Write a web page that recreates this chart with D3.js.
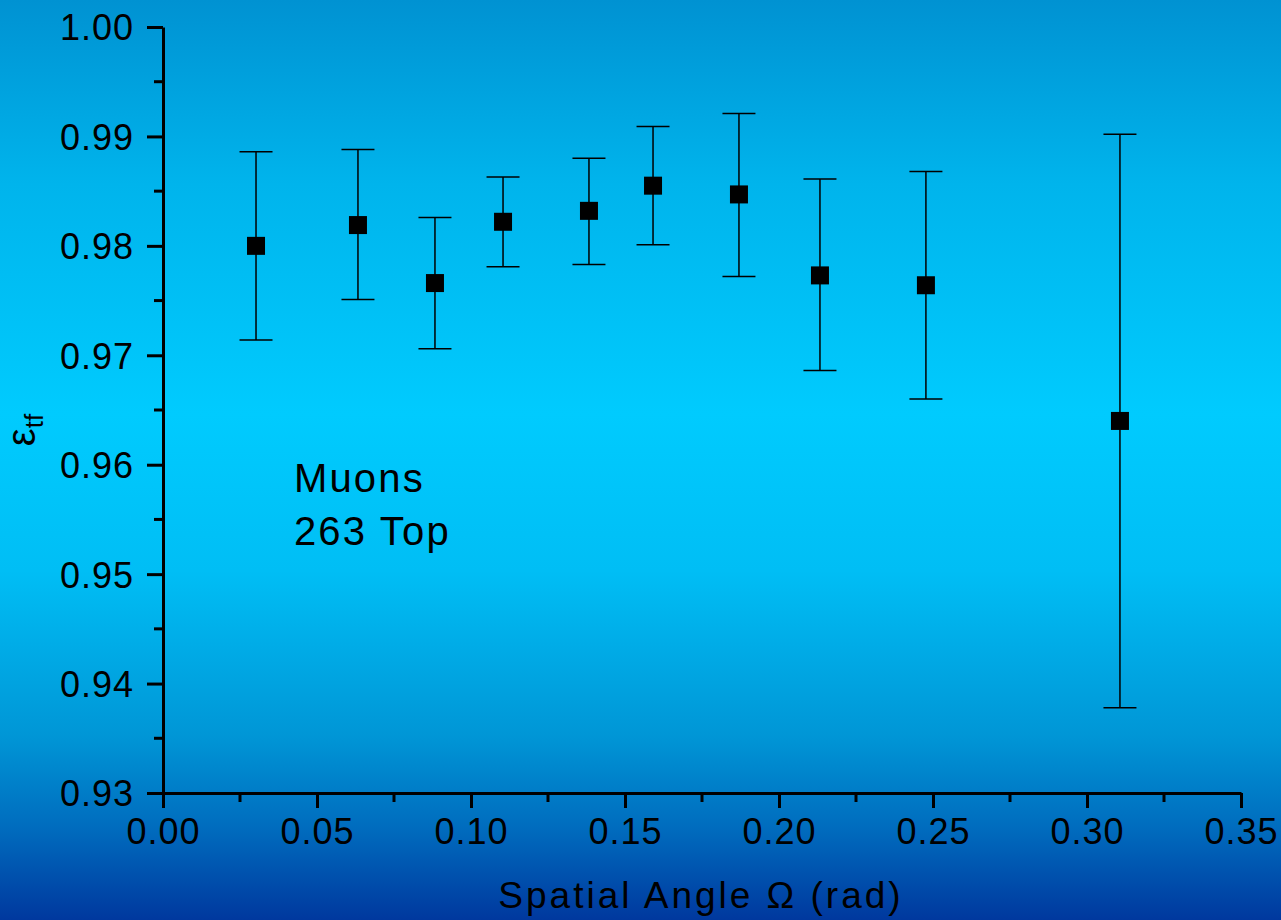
<!DOCTYPE html>
<html>
<head>
<meta charset="utf-8">
<script src="https://cdn.jsdelivr.net/npm/d3@7"></script>
<style>
  body { margin: 0; overflow: hidden; }
  svg { display: block; font-family: "Liberation Sans", Arial, sans-serif; }
</style>
</head>
<body>
<div id="graphic"></div>
<script>
// data
var angles = [0.0302, 0.0633, 0.0883, 0.1104, 0.1383, 0.1591, 0.1870, 0.2133, 0.2477, 0.3107];
var effs   = [0.9800, 0.9819, 0.9766, 0.9822, 0.9832, 0.9855, 0.9847, 0.9773, 0.9764, 0.9640];
var upper  = [0.9886, 0.9888, 0.9826, 0.9863, 0.9880, 0.9909, 0.9921, 0.9861, 0.9868, 0.9902];
var lower  = [0.9714, 0.9751, 0.9706, 0.9781, 0.9783, 0.9801, 0.9772, 0.9686, 0.9660, 0.9378];
var xTicks = [0, 0.05, 0.10, 0.15, 0.20, 0.25, 0.30, 0.35];
var yTicks = [0.93, 0.94, 0.95, 0.96, 0.97, 0.98, 0.99, 1.00];

var W = 1281, H = 920;
var margin = {left: 163, right: 40, top: 27, bottom: 127};
var width = W - margin.left - margin.right;
var height = H - margin.top - margin.bottom;

var data = angles.map(function(a, i) {
  return {x: a, y: effs[i], hi: upper[i], lo: lower[i]};
});

var svg = d3.select('#graphic').append('svg')
  .attr('width', W)
  .attr('height', H);

// background gradient
var grad = svg.append('defs').append('linearGradient')
  .attr('id', 'bg').attr('x1', 0).attr('x2', 0).attr('y1', 0).attr('y2', 1);
[[0, '#0092d2'], [0.2, '#00b4ec'], [0.45, '#00cbfe'], [0.62, '#00bef5'], [0.8, '#0096d6'], [0.9, '#006cbe'], [1, '#00389e']]
  .forEach(function(s) { grad.append('stop').attr('offset', s[0]).attr('stop-color', s[1]); });
svg.append('rect').attr('width', W).attr('height', H).attr('fill', 'url(#bg)');

var g = svg.append('g').attr('transform', 'translate(' + margin.left + ',' + margin.top + ')');

var x = d3.scaleLinear().domain([0, 0.35]).range([0, width]);
var y = d3.scaleLinear().domain([0.93, 1.00]).range([height, 0]);

// minor ticks
var xMinor = d3.range(0.025, 0.35, 0.05);
var yMinor = d3.range(0.935, 1.0, 0.01);

g.selectAll('line.xminor').data(xMinor).join('line')
  .attr('x1', d => x(d)).attr('x2', d => x(d))
  .attr('y1', height).attr('y2', height + 9)
  .attr('stroke', '#000').attr('stroke-width', 3);
g.selectAll('line.yminor').data(yMinor).join('line')
  .attr('y1', d => y(d)).attr('y2', d => y(d))
  .attr('x1', 0).attr('x2', -9)
  .attr('stroke', '#000').attr('stroke-width', 3);

var xAxis = d3.axisBottom(x).tickValues(xTicks).tickFormat(d3.format('.2f'))
  .tickSize(15).tickSizeOuter(0).tickPadding(10);
var yAxis = d3.axisLeft(y).tickValues(yTicks).tickFormat(d3.format('.2f'))
  .tickSize(16).tickSizeOuter(0).tickPadding(13);

var gx = g.append('g').attr('transform', 'translate(0,' + height + ')').call(xAxis);
var gy = g.append('g').call(yAxis);

[gx, gy].forEach(function(a) {
  a.selectAll('path, line').attr('stroke', '#000').attr('stroke-width', 3);
  a.selectAll('text').attr('fill', '#000').style('font-size', '36px').style('letter-spacing', '1px');
});
gy.selectAll('text').attr('dy', '0.36em');

// error bars
var bars = g.selectAll('g.bar').data(data).join('g').attr('class', 'bar');
bars.append('line')
  .attr('x1', d => x(d.x)).attr('x2', d => x(d.x))
  .attr('y1', d => y(d.hi)).attr('y2', d => y(d.lo))
  .attr('stroke', '#000').attr('stroke-width', 1.5);
bars.append('line')
  .attr('x1', d => x(d.x) - 16.5).attr('x2', d => x(d.x) + 16.5)
  .attr('y1', d => y(d.hi)).attr('y2', d => y(d.hi))
  .attr('stroke', '#000').attr('stroke-width', 1.5);
bars.append('line')
  .attr('x1', d => x(d.x) - 16.5).attr('x2', d => x(d.x) + 16.5)
  .attr('y1', d => y(d.lo)).attr('y2', d => y(d.lo))
  .attr('stroke', '#000').attr('stroke-width', 1.5);
bars.append('rect')
  .attr('x', d => x(d.x) - 9).attr('y', d => y(d.y) - 9)
  .attr('width', 18).attr('height', 18)
  .attr('fill', '#000');

// annotation
var note = g.append('text').attr('x', x(0.0425)).attr('y', 465)
  .attr('fill', '#000').style('font-size', '40px').style('letter-spacing', '2.2px');
note.append('tspan').text('Muons');
note.append('tspan').attr('x', x(0.0425)).attr('dy', 53).text('263 Top');

// axis titles
svg.append('text')
  .attr('x', 701).attr('y', 908)
  .attr('text-anchor', 'middle').attr('fill', '#000')
  .style('font-size', '37px').style('letter-spacing', '3px')
  .text('Spatial Angle \u03A9 (rad)');

var yt = svg.append('text')
  .attr('transform', 'translate(35,430) rotate(-90)')
  .attr('text-anchor', 'middle').attr('fill', '#000')
  .style('font-size', '40px');
yt.append('tspan').text('\u03B5');
yt.append('tspan').attr('dy', 8).style('font-size', '26px').text('tf');
</script>
</body>
</html>
